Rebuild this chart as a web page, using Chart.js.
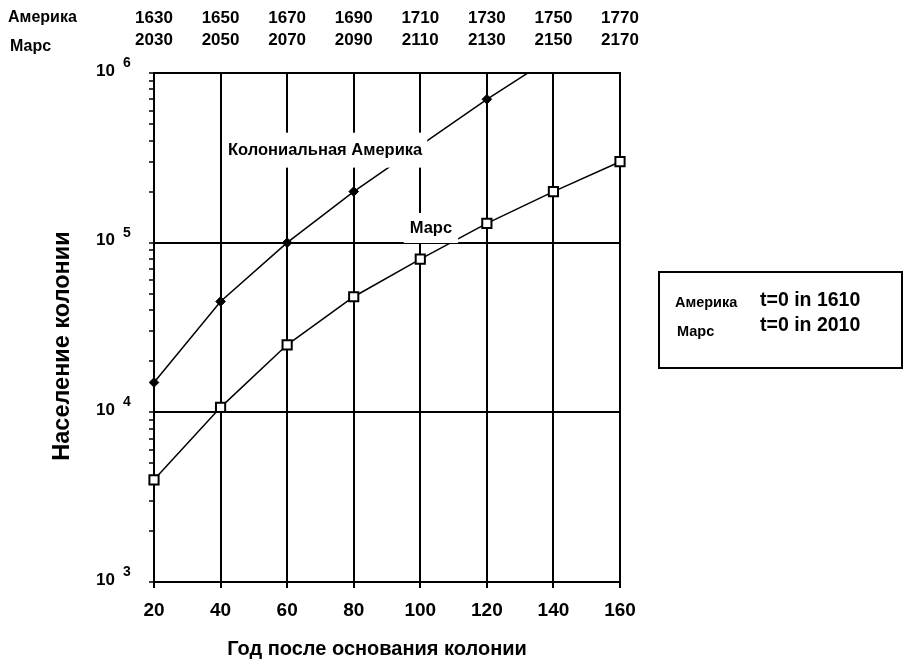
<!DOCTYPE html>
<html>
<head>
<meta charset="utf-8">
<script src="https://cdn.jsdelivr.net/npm/chart.js@4.4.0/dist/chart.umd.min.js"></script>
<style>
  html, body { margin: 0; padding: 0; background: #fff; }
  #wrap { width: 904px; height: 666px; }
</style>
</head>
<body>
<div id="wrap"><canvas id="chart" width="904" height="666"></canvas></div>
<script>
// years after founding, and the calendar year of each for both colonies
const yearTicks = [20, 40, 60, 80, 100, 120, 140, 160];
const americaYears = ['1630', '1650', '1670', '1690', '1710', '1730', '1750', '1770'];
const marsYears = ['2030', '2050', '2070', '2090', '2110', '2130', '2150', '2170'];

// Colonial America (point at 100 is hidden by the label)
const americaX = [20, 40, 60, 80, 120, 140];
const americaPop = [15000, 45000, 100000, 200000, 700000, 1250000];

// Mars
const marsX = [20, 40, 60, 80, 100, 120, 140, 160];
const marsPop = [4000, 10700, 25000, 48000, 80000, 130000, 200000, 300000];

const decades = [1e3, 1e4, 1e5, 1e6];
const decadeExp = ['3', '4', '5', '6'];

const FONT = '"Liberation Sans", Arial, sans-serif';
Chart.defaults.font.family = FONT;
Chart.defaults.color = '#000';

const toPoints = (xs, ys) => xs.map((v, i) => ({ x: v, y: ys[i] }));

function boxLabel(ctx, text, cx, cy, padX, boxH) {
  ctx.save();
  ctx.font = 'bold 16.5px ' + FONT;
  const w = ctx.measureText(text).width;
  ctx.fillStyle = '#fff';
  ctx.fillRect(cx - w / 2 - padX, cy - boxH / 2, w + padX * 2, boxH);
  ctx.fillStyle = '#000';
  ctx.textAlign = 'center';
  ctx.textBaseline = 'middle';
  ctx.fillText(text, cx, cy);
  ctx.restore();
}

const extraText = {
  id: 'extraText',
  afterDatasetsDraw(chart) {
    const { ctx, scales: { x, y } } = chart;
    boxLabel(ctx, 'Колониальная Америка', x.getPixelForValue(71.4), y.getPixelForValue(351000), 5, 35);
    boxLabel(ctx, 'Марс', x.getPixelForValue(103.2), y.getPixelForValue(122000), 6, 30);
  },
  afterDraw(chart) {
    const { ctx, scales: { y } } = chart;
    ctx.save();
    ctx.fillStyle = '#000';
    // log tick labels 10^n
    decades.forEach((v, i) => {
      const py = y.getPixelForValue(v);
      ctx.textBaseline = 'middle';
      ctx.font = 'bold 17px ' + FONT;
      ctx.textAlign = 'right';
      ctx.fillText('10', 115, py - 2);
      ctx.font = 'bold 14px ' + FONT;
      ctx.textAlign = 'left';
      ctx.fillText(decadeExp[i], 123, py - 10);
    });
    // axis titles
    ctx.textAlign = 'center';
    ctx.textBaseline = 'middle';
    ctx.font = 'bold 20px ' + FONT;
    ctx.fillText('Год после основания колонии', 377, 649);
    ctx.save();
    ctx.translate(63, 346);
    ctx.rotate(-Math.PI / 2);
    ctx.font = 'bold 23.5px ' + FONT;
    ctx.fillText('Население колонии', 0, 0);
    ctx.restore();
    // row names of the top axis
    ctx.font = 'bold 16px ' + FONT;
    ctx.textAlign = 'left';
    ctx.fillText('Америка', 8, 18);
    ctx.fillText('Марс', 10, 47);
    // note box
    ctx.lineWidth = 2;
    ctx.strokeStyle = '#000';
    ctx.strokeRect(659, 272, 243, 96);
    ctx.font = 'bold 14.5px ' + FONT;
    ctx.fillText('Америка', 675, 303);
    ctx.fillText('Марс', 677, 332);
    ctx.font = 'bold 19.5px ' + FONT;
    ctx.fillText('t=0 in 1610', 760, 301);
    ctx.fillText('t=0 in 2010', 760, 326);
    ctx.restore();
  }
};

const ctx = document.getElementById('chart').getContext('2d');
new Chart(ctx, {
  type: 'line',
  plugins: [extraText],
  data: {
    datasets: [
      {
        label: 'Колониальная Америка',
        data: toPoints(americaX, americaPop),
        borderColor: '#000',
        borderWidth: 1.5,
        pointStyle: 'rectRot',
        pointRadius: 4.8,
        pointBackgroundColor: '#000',
        pointBorderColor: '#000',
        pointBorderWidth: 1,
        clip: { left: 10, right: 10, top: 0, bottom: 10 },
      },
      {
        label: 'Марс',
        data: toPoints(marsX, marsPop),
        borderColor: '#000',
        borderWidth: 1.5,
        pointStyle: 'rect',
        pointRadius: 6.5,
        pointBackgroundColor: '#fff',
        pointBorderColor: '#000',
        pointBorderWidth: 2,
        clip: { left: 10, right: 10, top: 0, bottom: 10 },
      },
    ],
  },
  options: {
    responsive: false,
    animation: false,
    layout: { padding: { left: 0, right: 284, top: 0, bottom: 0 } },
    plugins: { legend: { display: false }, tooltip: { enabled: false } },
    scales: {
      x: {
        type: 'linear',
        position: 'bottom',
        min: 20,
        max: 160,
        afterFit: (s) => { s.height = 84; },
        ticks: {
          stepSize: 10,
          padding: 11,
          maxRotation: 0,
          font: { size: 19, weight: 'bold' },
          callback: (v) => (yearTicks.includes(v) ? String(v) : ''),
        },
        grid: {
          color: (c) => (c.tick && c.tick.value % 20 === 0 ? '#000' : 'rgba(0,0,0,0)'),
          tickColor: '#000',
          lineWidth: 2,
          tickWidth: 2,
          tickLength: 6,
        },
        border: { color: '#000', width: 2 },
      },
      x2: {
        type: 'linear',
        position: 'top',
        min: 20,
        max: 160,
        afterFit: (s) => { s.height = 73; },
        ticks: {
          stepSize: 20,
          padding: 22,
          maxRotation: 0,
          font: { size: 17, weight: 'bold', lineHeight: 1.3 },
          callback: (v) => {
            const i = yearTicks.indexOf(v);
            return i < 0 ? '' : [americaYears[i], marsYears[i]];
          },
        },
        grid: { display: false, drawTicks: false },
        border: { color: '#000', width: 2 },
      },
      y: {
        type: 'logarithmic',
        min: 1e3,
        max: 1e6,
        afterFit: (s) => { s.width = 154; },
        afterBuildTicks: (s) => {
          s.ticks = s.ticks.filter((t) => {
            const m = t.value / Math.pow(10, Math.floor(Math.log10(t.value) + 1e-9));
            return Math.abs(m - Math.round(m)) < 1e-6;
          });
        },
        ticks: { display: false },
        grid: {
          color: (c) => (c.tick && decades.includes(c.tick.value) ? '#000' : 'rgba(0,0,0,0)'),
          tickColor: '#000',
          lineWidth: 2,
          tickWidth: 1.5,
          tickLength: 5,
        },
        border: { color: '#000', width: 2 },
      },
    },
  },
});
</script>
</body>
</html>
